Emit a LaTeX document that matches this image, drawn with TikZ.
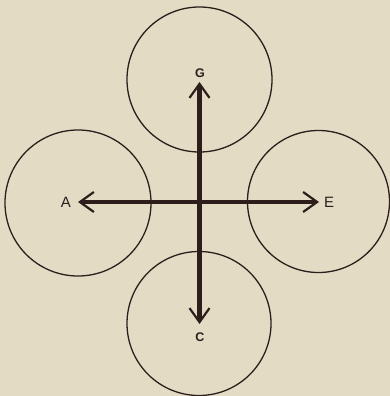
\documentclass[tikz,border=0pt]{standalone}
\usetikzlibrary{arrows.meta}
\usepackage{fontspec}
\setmainfont{Liberation Sans}
\definecolor{ink}{RGB}{45,30,28}
\definecolor{paper}{RGB}{228,219,196}
\begin{document}
\begin{tikzpicture}[x=1pt,y=-1pt,
  ring/.style={circle, draw=ink, line width=1.3pt, minimum size=#1, inner sep=0pt},
  arr/.style={draw=ink, line width=4.5pt,
    -{Straight Barb[length=14pt, width=20pt, line width=2.2pt]}},
  lbl/.style={text=ink, inner sep=0pt, font=\fontsize{15}{15}\selectfont},
  lbls/.style={text=ink, inner sep=0pt, font=\bfseries\fontsize{12.5}{12.5}\selectfont}]
\fill[paper] (0,0) rectangle (390,396);
\useasboundingbox (0,0) rectangle (390,396);
\node[ring=145] (cG) at (199.5,79.5) {};
\node[ring=146] (cA) at (78,203) {};
\node[ring=142] (cE) at (318.5,201.5) {};
\node[ring=144] (cC) at (199,323.5) {};
\coordinate (o) at (199.5,202);
\coordinate (tA) at (78,202);
\coordinate (tE) at (319,202);
\coordinate (tG) at (199.5,82);
\coordinate (tC) at (199.5,324);
\draw[arr] (o) -- (tA);
\draw[arr] (o) -- (tE);
\draw[arr] (o) -- (tG);
\draw[arr] (o) -- (tC);
\node[lbl] (A) at (66,202) {A};
\node[lbl] (E) at (329,202) {E};
\node[lbls] (G) at (200,73) {G};
\node[lbls] (C) at (200,337) {C};
\end{tikzpicture}
\end{document}
